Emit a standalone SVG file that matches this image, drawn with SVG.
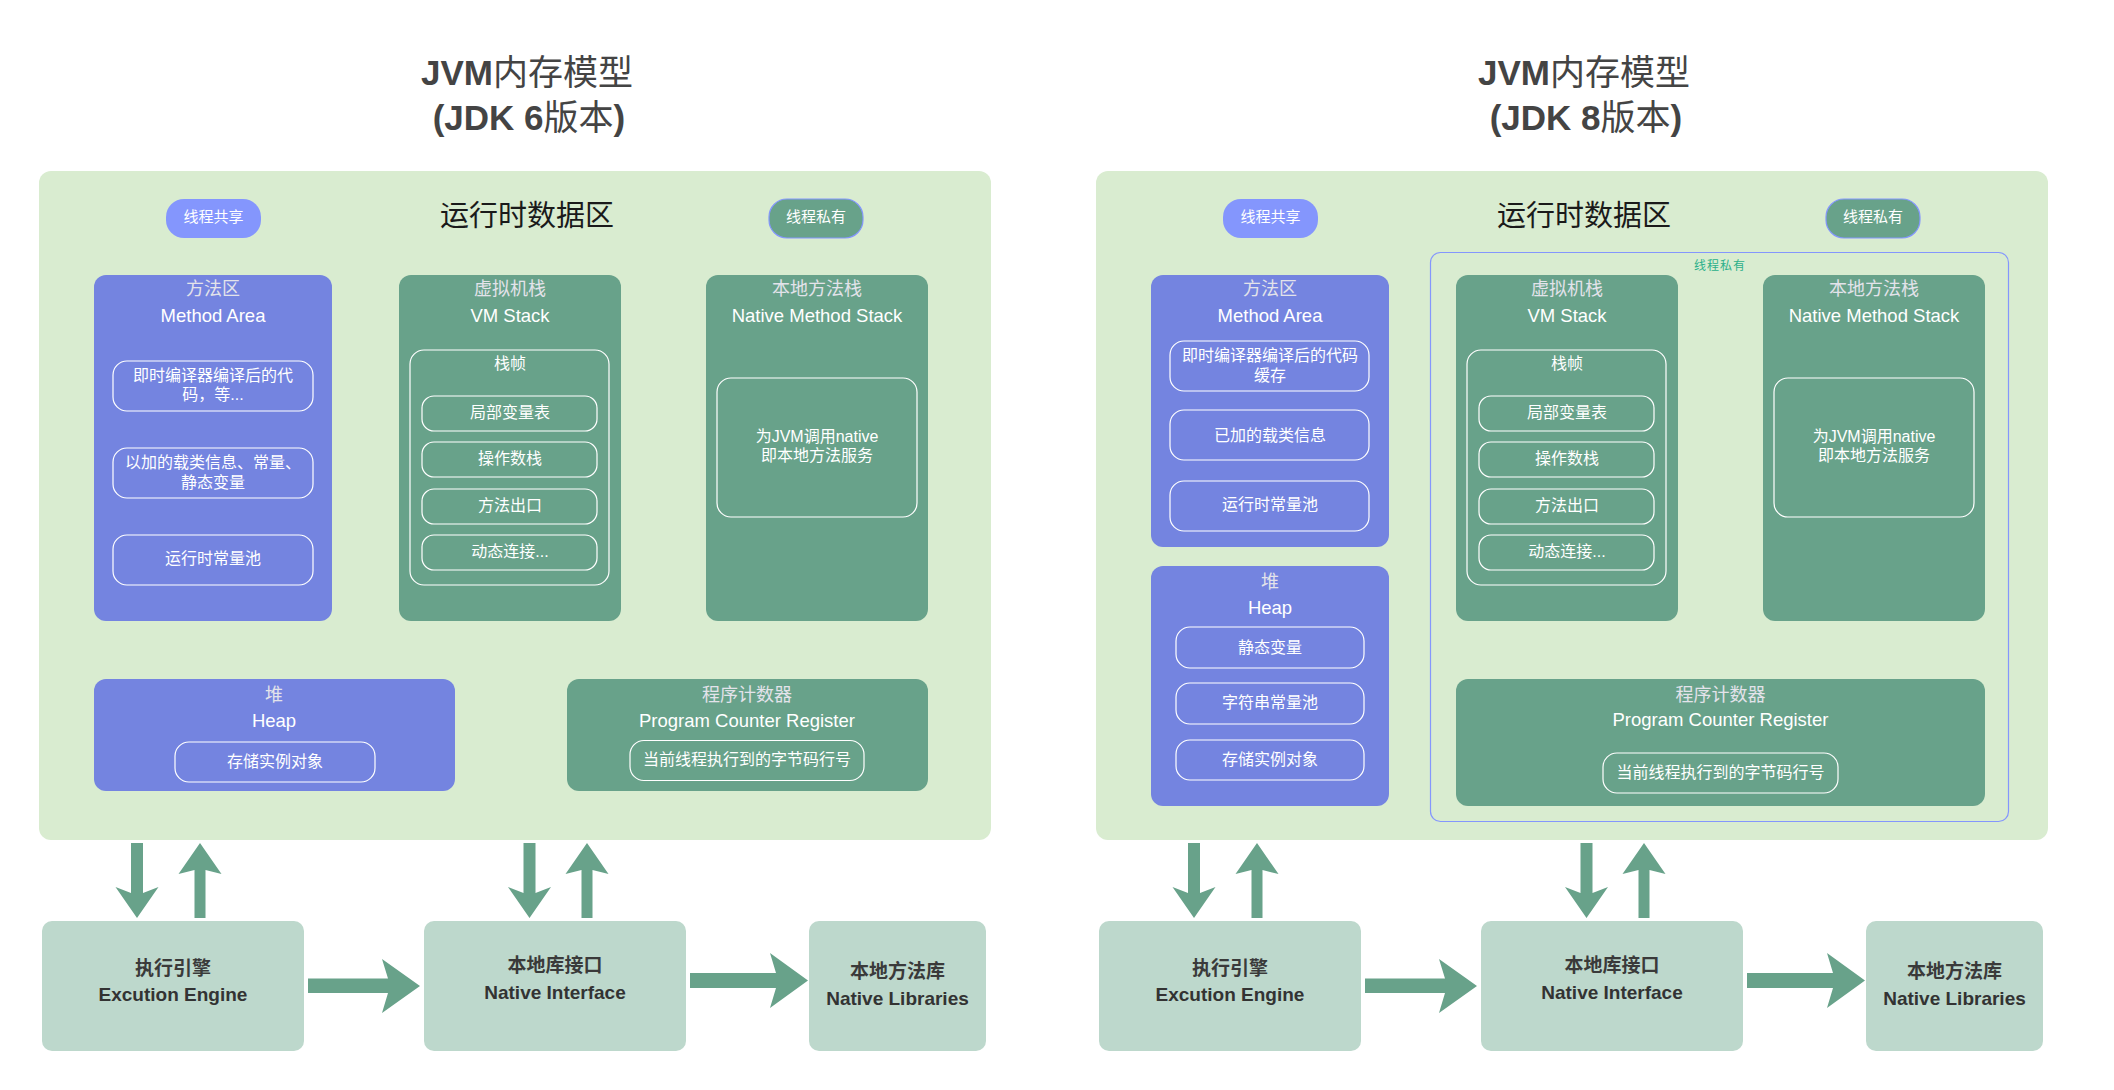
<svg xmlns="http://www.w3.org/2000/svg" width="2114" height="1090" viewBox="0 0 2114 1090">
<style>
.bg{fill:#ffffff}
.panel{fill:#d9ecd0}
.blue{fill:#7484e0}
.green{fill:#68a28a}
.inner{fill:none;stroke:#ffffff;stroke-width:1.2}
.bottom{fill:#bdd8cc}
.arrow{fill:#68a28a}
.pillB{fill:#8496fd}
.pillG{fill:#68a28a;stroke:#8496fd;stroke-width:1.2}
.priv{fill:none;stroke:#8496fd;stroke-width:1.2}
.title{font-family:"Liberation Sans","Noto Sans CJK SC",sans-serif;font-size:35px;font-weight:bold;fill:#444444;text-anchor:middle}
.cjkn{font-family:"Noto Sans CJK SC",sans-serif;font-weight:normal}
.area{font-family:"Noto Sans CJK SC",sans-serif;font-size:29px;fill:#1a1a1a;text-anchor:middle}
.pill{font-family:"Noto Sans CJK SC",sans-serif;font-size:15px;fill:#ffffff;text-anchor:middle}
.hcn{font-family:"Noto Sans CJK SC",sans-serif;font-size:18px;fill:#e3e3ea;text-anchor:middle}
.hen{font-family:"Liberation Sans",Arial,sans-serif;font-size:18.5px;fill:#ffffff;text-anchor:middle}
.it{font-family:"Liberation Sans","Noto Sans CJK SC",sans-serif;font-size:16px;fill:#ffffff;text-anchor:middle}
.bcn{font-family:"Noto Sans CJK SC",sans-serif;font-size:19px;font-weight:bold;fill:#3a3a3a;text-anchor:middle}
.ben{font-family:"Liberation Sans",Arial,sans-serif;font-size:19px;font-weight:bold;fill:#333333;text-anchor:middle}
.small{font-family:"Noto Sans CJK SC",sans-serif;font-size:12px;letter-spacing:1px;fill:#2cb08a;text-anchor:middle}
</style>
<rect class="bg" x="0" y="0" width="2114" height="1090"/>

<!-- ================= JDK 6 ================= -->
<g id="jdk6">
  <g id="jdk6-title">
    <text class="title" x="527" y="85">JVM<tspan class="cjkn">内存模型</tspan></text>
    <text class="title" x="529" y="130">(JDK 6<tspan class="cjkn">版本</tspan>)</text>
  </g>
  <g id="jdk6-runtime">
    <rect class="panel" x="39" y="171" width="952" height="669" rx="12"/>
    <text class="area" x="527" y="226">运行时数据区</text>
  </g>
  <g id="jdk6-shared-tag">
    <rect class="pillB" x="166" y="199" width="95" height="39" rx="18"/>
    <text class="pill" x="213.5" y="222">线程共享</text>
  </g>
  <g id="jdk6-private-tag">
    <rect class="pillG" x="769" y="199" width="94" height="39" rx="18"/>
    <text class="pill" x="816" y="222">线程私有</text>
  </g>
  <g id="jdk6-method-area">
    <rect class="blue" x="94" y="275" width="238" height="346" rx="12"/>
    <text class="hcn" x="213" y="295">方法区</text>
    <text class="hen" x="213" y="322">Method Area</text>
    <rect class="inner" x="113" y="361" width="200" height="50" rx="14"/>
    <text class="it" x="213" y="381">即时编译器编译后的代</text>
    <text class="it" x="213" y="400">码，等...</text>
    <rect class="inner" x="113" y="448" width="200" height="50" rx="14"/>
    <text class="it" x="213" y="468">以加的载类信息、常量、</text>
    <text class="it" x="213" y="488">静态变量</text>
    <rect class="inner" x="113" y="535" width="200" height="50" rx="14"/>
    <text class="it" x="213" y="564">运行时常量池</text>
  </g>
  <g id="jdk6-heap">
    <rect class="blue" x="94" y="679" width="361" height="112" rx="12"/>
    <text class="hcn" x="274" y="701">堆</text>
    <text class="hen" x="274" y="726.5">Heap</text>
    <rect class="inner" x="175" y="742" width="200" height="40" rx="14"/>
    <text class="it" x="275" y="767">存储实例对象</text>
  </g>
  <g id="jdk6-pc">
    <rect class="green" x="567" y="679" width="361" height="112" rx="12"/>
    <text class="hcn" x="747" y="701">程序计数器</text>
    <text class="hen" x="747" y="726.5">Program Counter Register</text>
    <rect class="inner" x="630" y="740.5" width="234" height="40" rx="14"/>
    <text class="it" x="747" y="765">当前线程执行到的字节码行号</text>
  </g>
</g>

<!-- shared-layout nodes (identical in both versions) -->
<g id="vmstack-6">
  <rect class="green" x="399" y="275" width="222" height="346" rx="12"/>
  <text class="hcn" x="510" y="295">虚拟机栈</text>
  <text class="hen" x="510" y="322">VM Stack</text>
  <rect class="inner" x="410" y="350" width="199" height="235" rx="14"/>
  <text class="it" x="510" y="369">栈帧</text>
  <rect class="inner" x="422" y="396" width="175" height="35" rx="12"/>
  <text class="it" x="510" y="418">局部变量表</text>
  <rect class="inner" x="422" y="442" width="175" height="35" rx="12"/>
  <text class="it" x="510" y="464">操作数栈</text>
  <rect class="inner" x="422" y="489" width="175" height="35" rx="12"/>
  <text class="it" x="510" y="511">方法出口</text>
  <rect class="inner" x="422" y="535" width="175" height="35" rx="12"/>
  <text class="it" x="510" y="557">动态连接...</text>
</g>
<g id="nativestack-6">
  <rect class="green" x="706" y="275" width="222" height="346" rx="12"/>
  <text class="hcn" x="817" y="295">本地方法栈</text>
  <text class="hen" x="817" y="322">Native Method Stack</text>
  <rect class="inner" x="717" y="378" width="200" height="139" rx="14"/>
  <text class="it" x="817" y="442">为JVM调用native</text>
  <text class="it" x="817" y="461">即本地方法服务</text>
</g>
<g id="engine-6">
  <rect class="bottom" x="42" y="921" width="262" height="130" rx="10"/>
  <text class="bcn" x="173" y="975">执行引擎</text>
  <text class="ben" x="173" y="1001">Excution Engine</text>
</g>
<g id="native-if-6">
  <rect class="bottom" x="424" y="921" width="262" height="130" rx="10"/>
  <text class="bcn" x="555" y="972">本地库接口</text>
  <text class="ben" x="555" y="999">Native Interface</text>
</g>
<g id="native-lib-6">
  <rect class="bottom" x="809" y="921" width="177" height="130" rx="10"/>
  <text class="bcn" x="897.5" y="978">本地方法库</text>
  <text class="ben" x="897.5" y="1005">Native Libraries</text>
</g>

<!-- ================= JDK 8 ================= -->
<g id="jdk8">
  <g id="jdk8-title">
    <text class="title" x="1584" y="85">JVM<tspan class="cjkn">内存模型</tspan></text>
    <text class="title" x="1586" y="130">(JDK 8<tspan class="cjkn">版本</tspan>)</text>
  </g>
  <g id="jdk8-runtime">
    <rect class="panel" x="1096" y="171" width="952" height="669" rx="12"/>
    <text class="area" x="1584" y="226">运行时数据区</text>
  </g>
  <g id="jdk8-shared-tag">
    <rect class="pillB" x="1223" y="199" width="95" height="39" rx="18"/>
    <text class="pill" x="1270.5" y="222">线程共享</text>
  </g>
  <g id="jdk8-private-tag">
    <rect class="pillG" x="1826" y="199" width="94" height="39" rx="18"/>
    <text class="pill" x="1873" y="222">线程私有</text>
  </g>
  <g id="jdk8-private-area">
    <rect class="priv" x="1430.5" y="252.5" width="578" height="569" rx="10"/>
    <text class="small" x="1720" y="270">线程私有</text>
  </g>
  <g id="jdk8-method-area">
    <rect class="blue" x="1151" y="275" width="238" height="272" rx="12"/>
    <text class="hcn" x="1270" y="295">方法区</text>
    <text class="hen" x="1270" y="322">Method Area</text>
    <rect class="inner" x="1170" y="341" width="199" height="50" rx="14"/>
    <text class="it" x="1270" y="361">即时编译器编译后的代码</text>
    <text class="it" x="1270" y="381">缓存</text>
    <rect class="inner" x="1170" y="410" width="199" height="50" rx="14"/>
    <text class="it" x="1270" y="441">已加的载类信息</text>
    <rect class="inner" x="1170" y="481" width="199" height="50" rx="14"/>
    <text class="it" x="1270" y="510">运行时常量池</text>
  </g>
  <g id="jdk8-heap">
    <rect class="blue" x="1151" y="566" width="238" height="240" rx="12"/>
    <text class="hcn" x="1270" y="588">堆</text>
    <text class="hen" x="1270" y="613.5">Heap</text>
    <rect class="inner" x="1176" y="627" width="188" height="41" rx="14"/>
    <text class="it" x="1270" y="653">静态变量</text>
    <rect class="inner" x="1176" y="683" width="188" height="41" rx="14"/>
    <text class="it" x="1270" y="708">字符串常量池</text>
    <rect class="inner" x="1176" y="740" width="188" height="40" rx="14"/>
    <text class="it" x="1270" y="765">存储实例对象</text>
  </g>
  <g id="jdk8-pc">
    <rect class="green" x="1456" y="679" width="529" height="127" rx="12"/>
    <text class="hcn" x="1720.5" y="701">程序计数器</text>
    <text class="hen" x="1720.5" y="726">Program Counter Register</text>
    <rect class="inner" x="1603" y="753" width="235" height="40" rx="14"/>
    <text class="it" x="1720.5" y="778">当前线程执行到的字节码行号</text>
  </g>
  <g id="vmstack-8" transform="translate(1057,0)">
    <rect class="green" x="399" y="275" width="222" height="346" rx="12"/>
    <text class="hcn" x="510" y="295">虚拟机栈</text>
    <text class="hen" x="510" y="322">VM Stack</text>
    <rect class="inner" x="410" y="350" width="199" height="235" rx="14"/>
    <text class="it" x="510" y="369">栈帧</text>
    <rect class="inner" x="422" y="396" width="175" height="35" rx="12"/>
    <text class="it" x="510" y="418">局部变量表</text>
    <rect class="inner" x="422" y="442" width="175" height="35" rx="12"/>
    <text class="it" x="510" y="464">操作数栈</text>
    <rect class="inner" x="422" y="489" width="175" height="35" rx="12"/>
    <text class="it" x="510" y="511">方法出口</text>
    <rect class="inner" x="422" y="535" width="175" height="35" rx="12"/>
    <text class="it" x="510" y="557">动态连接...</text>
  </g>
  <g id="nativestack-8" transform="translate(1057,0)">
    <rect class="green" x="706" y="275" width="222" height="346" rx="12"/>
    <text class="hcn" x="817" y="295">本地方法栈</text>
    <text class="hen" x="817" y="322">Native Method Stack</text>
    <rect class="inner" x="717" y="378" width="200" height="139" rx="14"/>
    <text class="it" x="817" y="442">为JVM调用native</text>
    <text class="it" x="817" y="461">即本地方法服务</text>
  </g>
  <g id="engine-8" transform="translate(1057,0)">
    <rect class="bottom" x="42" y="921" width="262" height="130" rx="10"/>
    <text class="bcn" x="173" y="975">执行引擎</text>
    <text class="ben" x="173" y="1001">Excution Engine</text>
  </g>
  <g id="native-if-8" transform="translate(1057,0)">
    <rect class="bottom" x="424" y="921" width="262" height="130" rx="10"/>
    <text class="bcn" x="555" y="972">本地库接口</text>
    <text class="ben" x="555" y="999">Native Interface</text>
  </g>
  <g id="native-lib-8" transform="translate(1057,0)">
    <rect class="bottom" x="809" y="921" width="177" height="130" rx="10"/>
    <text class="bcn" x="897.5" y="978">本地方法库</text>
    <text class="ben" x="897.5" y="1005">Native Libraries</text>
  </g>
</g>

<!-- ================= connectors ================= -->
<g id="connectors">
  <g id="connectors-6">
    <polygon class="arrow" points="131,843 143,843 143,893 158.5,887 137,918 115.5,887 131,893"/>
    <polygon class="arrow" points="200,843 221.5,874 205.5,870 205.5,918 194.5,918 194.5,870 178.5,874"/>
    <polygon class="arrow" points="523.5,843 535.5,843 535.5,893 551,887 529.5,918 508,887 523.5,893"/>
    <polygon class="arrow" points="587,843 608.5,874 592.5,870 592.5,918 581.5,918 581.5,870 565.5,874"/>
    <polygon class="arrow" points="308,978.5 388,978.5 382,959 420,986 382,1013 388,993 308,993"/>
    <polygon class="arrow" points="690,973 776,973 770,953 808,980.5 770,1008 776,988 690,988"/>
  </g>
  <g id="connectors-8" transform="translate(1057,0)">
    <polygon class="arrow" points="131,843 143,843 143,893 158.5,887 137,918 115.5,887 131,893"/>
    <polygon class="arrow" points="200,843 221.5,874 205.5,870 205.5,918 194.5,918 194.5,870 178.5,874"/>
    <polygon class="arrow" points="523.5,843 535.5,843 535.5,893 551,887 529.5,918 508,887 523.5,893"/>
    <polygon class="arrow" points="587,843 608.5,874 592.5,870 592.5,918 581.5,918 581.5,870 565.5,874"/>
    <polygon class="arrow" points="308,978.5 388,978.5 382,959 420,986 382,1013 388,993 308,993"/>
    <polygon class="arrow" points="690,973 776,973 770,953 808,980.5 770,1008 776,988 690,988"/>
  </g>
</g>
</svg>
